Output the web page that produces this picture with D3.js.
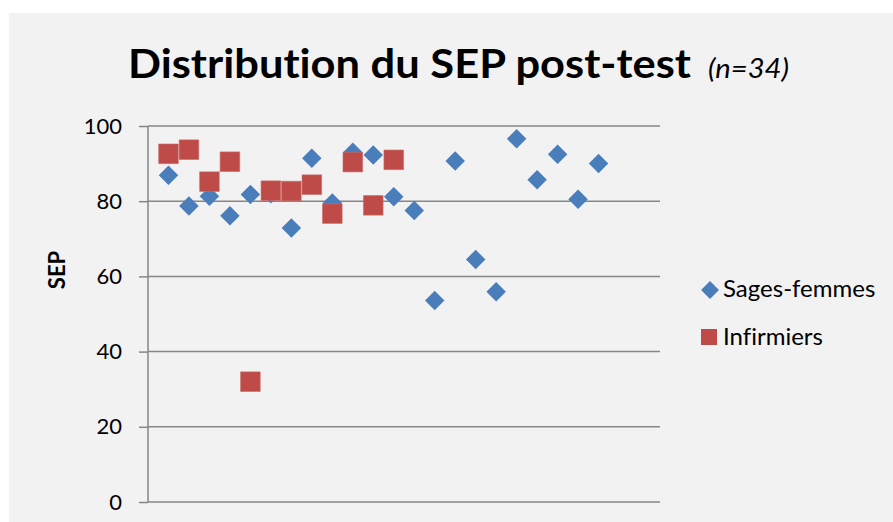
<!DOCTYPE html>
<html>
<head>
<meta charset="utf-8">
<script src="https://cdn.jsdelivr.net/npm/d3@7"></script>
<style>
  html, body { margin: 0; padding: 0; background: #ffffff; }
  svg { display: block; }
  text { font-variant-ligatures: none; }
</style>
</head>
<body>
<svg id="chart" width="893" height="522"></svg>
<script>
// ---- Data ----
const sagesX = [1,2,3,4,5,6,7,8,9,10,11,12,13,14,15,16,17,18,19,20,21,22];
const sagesY = [86.9,78.7,81.3,76.1,81.8,82,72.9,91.4,79.5,93,92.3,81.2,77.5,53.6,90.7,64.5,55.9,96.6,85.7,92.5,80.5,90];
const infX = [1,2,3,4,5,6,7,8,9,10,11,12];
const infY = [92.6,93.7,85.2,90.5,32,82.8,82.7,84.4,76.7,90.4,78.9,91];
const yTicks = [0,20,40,60,80,100];
const seriesNames = ["Sages-femmes", "Infirmiers"];
const titleMain = "Distribution du SEP post-test";
const titleSub = "(n=34)";
const yLabel = "SEP";

// ---- Layout ----
const svg = d3.select("#chart");
const FONT = "Lato, 'Open Sans', 'DejaVu Sans', sans-serif";
const blue = "#4a7ebb", red = "#be4b48", gridCol = "#868686";

svg.append("rect").attr("x", 9).attr("y", 13).attr("width", 884).attr("height", 509)
  .attr("fill", "#f2f2f2");

const x = d3.scaleLinear().domain([0, 25]).range([148, 660]);
const y = d3.scaleLinear().domain([0, 100]).range([502, 126]);

// gridlines
svg.append("g").selectAll("line").data(yTicks.filter(d => d > 0)).join("line")
  .attr("x1", x(0)).attr("x2", x(25))
  .attr("y1", d => y(d)).attr("y2", d => y(d))
  .attr("stroke", gridCol).attr("stroke-width", 1.5);

// y axis
const yAxis = d3.axisLeft(y).tickValues(yTicks).tickSize(9).tickPadding(17).tickFormat(d3.format("d"));
const gy = svg.append("g").attr("transform", `translate(${x(0)},0)`).call(yAxis);
gy.select(".domain").attr("stroke", gridCol).attr("stroke-width", 1.5).attr("d", `M0,${y(100)}V${y(0)}`);
gy.selectAll(".tick line").attr("stroke", gridCol).attr("stroke-width", 1.5);
gy.selectAll(".tick text").attr("font-family", FONT).attr("font-size", 22).attr("fill", "#000");

// x axis line (no labels)
svg.append("line").attr("x1", x(0)).attr("x2", x(25)).attr("y1", y(0)).attr("y2", y(0))
  .attr("stroke", gridCol).attr("stroke-width", 1.5);

// markers
const diamond = d3.symbol().type(d3.symbolSquare).size(190);
const square = d3.symbol().type(d3.symbolSquare).size(385);

svg.append("g").selectAll("path").data(d3.zip(sagesX, sagesY)).join("path")
  .attr("d", diamond)
  .attr("transform", d => `translate(${x(d[0])},${y(d[1])}) rotate(45)`)
  .attr("fill", blue);

svg.append("g").selectAll("path").data(d3.zip(infX, infY)).join("path")
  .attr("d", square)
  .attr("transform", d => `translate(${x(d[0])},${y(d[1])})`)
  .attr("fill", red).attr("stroke", "#c96b68").attr("stroke-width", 0.6);

// title
svg.append("text").attr("x", 128).attr("y", 78)
  .attr("font-family", FONT).attr("font-weight", "bold").attr("font-size", 40)
  .attr("textLength", 563).attr("lengthAdjust", "spacingAndGlyphs")
  .text(titleMain);
svg.append("text").attr("x", 708).attr("y", 78)
  .attr("font-family", FONT).attr("font-style", "italic").attr("font-size", 27)
  .attr("textLength", 81).attr("lengthAdjust", "spacingAndGlyphs")
  .text(titleSub);

// y label
svg.append("text").attr("transform", "translate(65,270) rotate(-90)")
  .attr("text-anchor", "middle")
  .attr("font-family", FONT).attr("font-weight", "bold").attr("font-size", 22)
  .text(yLabel);

// legend
const legend = svg.append("g");
legend.append("path").attr("d", d3.symbol().type(d3.symbolSquare).size(160))
  .attr("transform", "translate(710,290) rotate(45)").attr("fill", blue);
legend.append("path").attr("d", d3.symbol().type(d3.symbolSquare).size(256))
  .attr("transform", "translate(709,337)").attr("fill", red);
legend.selectAll("text").data(seriesNames).join("text")
  .attr("x", 723).attr("y", (d, i) => 297 + i * 48)
  .attr("font-family", FONT).attr("font-size", 24)
  .text(d => d);
</script>
</body>
</html>
